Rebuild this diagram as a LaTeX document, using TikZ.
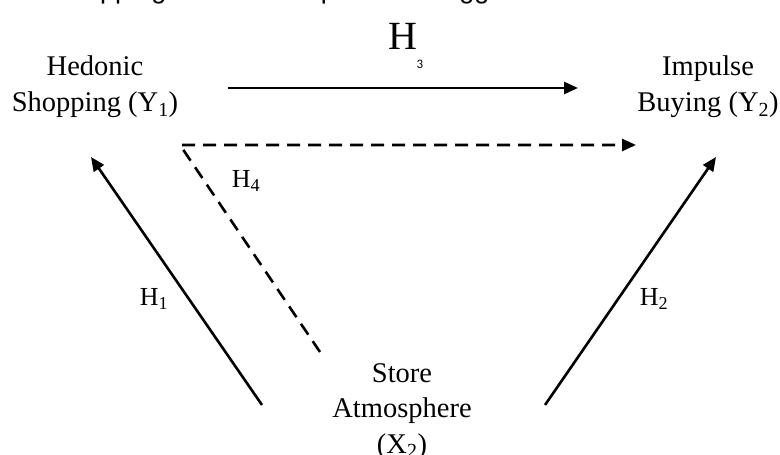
\documentclass[tikz,border=0pt]{standalone}
\usepackage{fontspec}
\setmainfont{Liberation Serif}
\newfontfamily\headfont{Liberation Sans}
\newfontfamily\smallfont{Carlito}
\usetikzlibrary{arrows.meta}
\tikzset{
  construct/.style={align=center,inner sep=0pt,anchor=north,
    font=\fontsize{28.5bp}{35.5bp}\selectfont},
  hyp/.style={inner sep=0pt,font=\fontsize{26bp}{30bp}\selectfont},
  path line/.style={draw,line width=2.6bp,
    -{Triangle[length=14bp,width=12bp]}},
  indirect/.style={draw,line width=2.6bp,dash pattern=on 13bp off 8bp},
  heading/.style={inner sep=0pt,anchor=base west,
    font=\headfont\fontsize{27bp}{27bp}\selectfont}
}

\begin{document}
\begin{tikzpicture}[x=1bp,y=1bp]
  \useasboundingbox (0,0) rectangle (780,455);
  \clip (0,0) rectangle (780,455);
  % heading line, cut off at the top
  \node[heading] (title) at (52,456.5) {Shopping Motive to Impulse as Trigger};
  % constructs
  \node[construct] (hedonic) at (95,399) {Hedonic\\Shopping (Y\textsubscript{1})};
  \node[construct] (impulse) at (708,399) {Impulse\\Buying (Y\textsubscript{2})};
  \node[construct] (store) at (402,92) {Store\\Atmosphere\\(X\textsubscript{2})};
  % arrow ends
  \coordinate (h3a) at (228,367);
  \coordinate (h3b) at (578,367);
  \coordinate (h4a) at (320,103);
  \coordinate (h4k) at (180,310);
  \coordinate (h4b) at (636,310);
  \coordinate (h1a) at (262,50);
  \coordinate (h1b) at (91,298);
  \coordinate (h2a) at (545,50);
  \coordinate (h2b) at (716,298);
  \draw[path line] (h3a) -- (h3b);
  \draw[path line] (h1a) -- (h1b);
  \draw[path line] (h2a) -- (h2b);
  \draw[indirect,-{Triangle[length=14bp,width=12bp]}] (h4a) -- (h4k) -- (h4b);
  % labels
  \node[inner sep=0pt,font=\fontsize{40bp}{40bp}\selectfont] (h3big) at (403,419) {H};
  \node[inner sep=0pt,font=\smallfont\fontsize{13bp}{13bp}\selectfont] (h3sub) at (420,391) {3};
  \node[hyp] (h1) at (154,156) {H\textsubscript{1}};
  \node[hyp] (h2) at (654,156) {H\textsubscript{2}};
  \node[hyp] (h4) at (246,274) {H\textsubscript{4}};
\end{tikzpicture}
\end{document}
